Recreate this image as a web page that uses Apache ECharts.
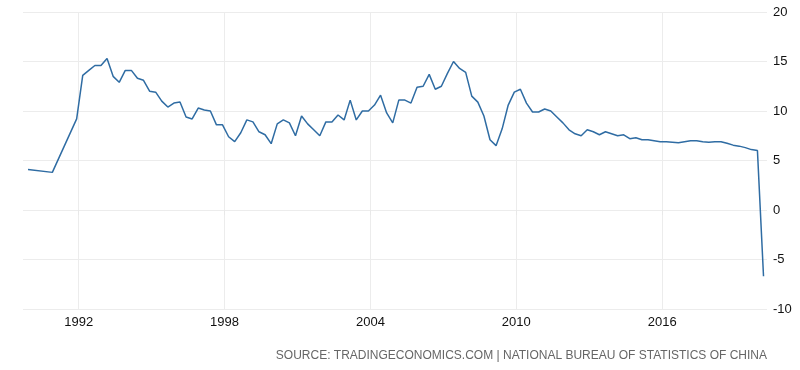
<!DOCTYPE html>
<html>
<head>
<meta charset="utf-8">
<script src="https://cdn.jsdelivr.net/npm/echarts@6/dist/echarts.min.js"></script>
<style>
html,body{margin:0;padding:0;background:#fff;}
#chart{width:800px;height:370px;}
</style>
</head>
<body>
<div id="chart"></div>
<script>
var dates = [
  '1989-12','1990-12','1991-12',
  '1992-03','1992-06','1992-09','1992-12',
  '1993-03','1993-06','1993-09','1993-12',
  '1994-03','1994-06','1994-09','1994-12',
  '1995-03','1995-06','1995-09','1995-12',
  '1996-03','1996-06','1996-09','1996-12',
  '1997-03','1997-06','1997-09','1997-12',
  '1998-03','1998-06','1998-09','1998-12',
  '1999-03','1999-06','1999-09','1999-12',
  '2000-03','2000-06','2000-09','2000-12',
  '2001-03','2001-06','2001-09','2001-12',
  '2002-03','2002-06','2002-09','2002-12',
  '2003-03','2003-06','2003-09','2003-12',
  '2004-03','2004-06','2004-09','2004-12',
  '2005-03','2005-06','2005-09','2005-12',
  '2006-03','2006-06','2006-09','2006-12',
  '2007-03','2007-06','2007-09','2007-12',
  '2008-03','2008-06','2008-09','2008-12',
  '2009-03','2009-06','2009-09','2009-12',
  '2010-03','2010-06','2010-09','2010-12',
  '2011-03','2011-06','2011-09','2011-12',
  '2012-03','2012-06','2012-09','2012-12',
  '2013-03','2013-06','2013-09','2013-12',
  '2014-03','2014-06','2014-09','2014-12',
  '2015-03','2015-06','2015-09','2015-12',
  '2016-03','2016-06','2016-09','2016-12',
  '2017-03','2017-06','2017-09','2017-12',
  '2018-03','2018-06','2018-09','2018-12',
  '2019-03','2019-06','2019-09','2019-12',
  '2020-03'
];
var gdpGrowth = [
  4.1, 3.8, 9.2,
  13.6, 14.1, 14.6, 14.6,
  15.3, 13.5, 12.9, 14.1,
  14.1, 13.3, 13.1, 12.0,
  11.9, 11.0, 10.4, 10.8,
  10.9, 9.4, 9.2, 10.3,
  10.1, 10.0, 8.6, 8.6,
  7.4, 6.9, 7.8, 9.1,
  8.9, 7.9, 7.6, 6.7,
  8.7, 9.1, 8.8, 7.5,
  9.5, 8.7, 8.1, 7.5,
  8.9, 8.9, 9.6, 9.1,
  11.1, 9.1, 10.0, 10.0,
  10.6, 11.6, 9.8, 8.8,
  11.1, 11.1, 10.8, 12.4,
  12.5, 13.7, 12.2, 12.5,
  13.8, 15.0, 14.3, 13.9,
  11.5, 10.9, 9.5, 7.1,
  6.5, 8.2, 10.6, 11.9,
  12.2, 10.8, 9.9, 9.9,
  10.2, 10.0, 9.4, 8.8,
  8.1, 7.7, 7.5, 8.1,
  7.9, 7.6, 7.9, 7.7,
  7.5, 7.6, 7.2, 7.3,
  7.1, 7.1, 7.0, 6.9,
  6.9, 6.85, 6.8, 6.9,
  7.0, 7.0, 6.9, 6.85,
  6.9, 6.9, 6.75, 6.55,
  6.45, 6.3, 6.1, 6.0,
  -6.7
];
var xTickYears = [1992, 1998, 2004, 2010, 2016];
var xRange = [1989.71, 2020.31];
var yMin = -10, yMax = 20, yStep = 5;
var sourceText = 'SOURCE: TRADINGECONOMICS.COM | NATIONAL BUREAU OF STATISTICS OF CHINA';

// date string 'YYYY-MM' -> decimal year (start of that month)
function toYear(d) {
  var p = d.split('-');
  return (+p[0]) + ((+p[1]) - 1) / 12;
}
var seriesData = dates.map(function (d, i) { return [toYear(d), gdpGrowth[i]]; });

var chart = echarts.init(document.getElementById('chart'), null, {renderer: 'canvas'});
chart.setOption({
  animation: false,
  backgroundColor: '#ffffff',
  title: {
    text: sourceText,
    right: 28,
    bottom: 3,
    textStyle: {
      fontFamily: 'Liberation Sans',
      fontSize: 12,
      fontWeight: 'normal',
      color: '#666666'
    }
  },
  grid: {left: 23, right: 33, top: 12, bottom: 61},
  xAxis: {
    type: 'value',
    min: xRange[0],
    max: xRange[1],
    axisLine: {show: false},
    axisTick: {show: true, length: 5, customValues: xTickYears, lineStyle: {color: '#e8e8e8'}},
    splitLine: {show: true, lineStyle: {color: '#ececec', width: 1}},
    axisLabel: {
      customValues: xTickYears,
      margin: 7,
      fontFamily: 'Liberation Sans',
      fontSize: 13,
      color: '#111',
      formatter: function (v) { return String(Math.round(v)); }
    }
  },
  yAxis: {
    type: 'value',
    position: 'right',
    min: yMin,
    max: yMax,
    interval: yStep,
    axisLine: {show: false},
    axisTick: {show: false},
    splitLine: {show: true, lineStyle: {color: '#ececec', width: 1}},
    axisLabel: {
      margin: 6,
      align: 'left',
      fontFamily: 'Liberation Sans',
      fontSize: 13,
      color: '#111'
    }
  },
  series: [{
    type: 'line',
    data: seriesData,
    showSymbol: false,
    symbol: 'none',
    lineStyle: {color: '#2f6ca3', width: 1.5},
    itemStyle: {color: '#2f6ca3'}
  }]
});
</script>
</body>
</html>
